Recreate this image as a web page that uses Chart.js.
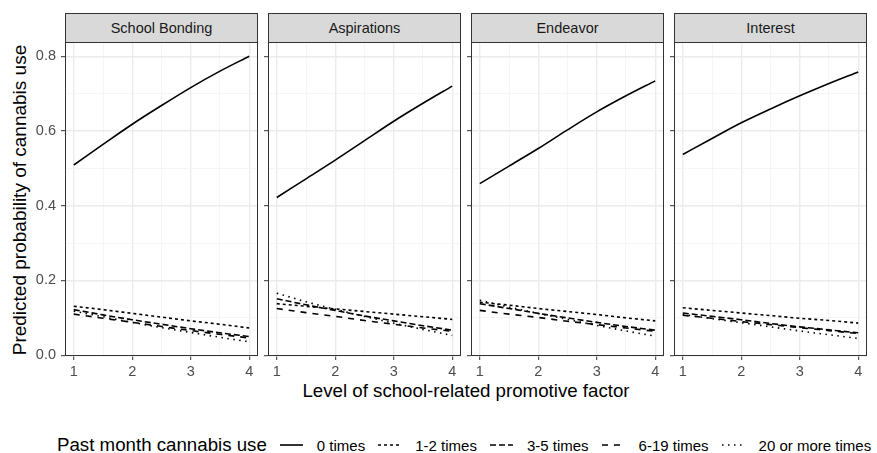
<!DOCTYPE html>
<html>
<head>
<meta charset="utf-8">
<script src="https://cdn.jsdelivr.net/npm/chart.js@4.4.1/dist/chart.umd.min.js"></script>
<style>
  html, body { margin: 0; padding: 0; background: #fff; }
  body { width: 877px; height: 453px; position: relative; overflow: hidden; font-family: "Liberation Sans", Arial, sans-serif; color: #000; }
  .strip { position: absolute; top: 13px; width: 193px; height: 30px; box-sizing: border-box; background: #D9D9D9; border: 1px solid #333; color: #1A1A1A; font-size: 14.5px; text-align: center; line-height: 28px; }
  .cv { position: absolute; top: 20px; }
  #ytitle { position: absolute; left: 19px; top: 200px; transform: translate(-50%, -50%) rotate(-90deg); white-space: nowrap; font-size: 19px; line-height: 19px; }
  #xtitle { position: absolute; left: 466px; top: 381px; transform: translateX(-50%); font-size: 18.7px; line-height: 19px; white-space: nowrap; }
  #legend { position: absolute; left: 57px; top: 434px; height: 22px; display: flex; align-items: center; white-space: nowrap; }
  #legend .ttl { font-size: 18.7px; margin-right: 13px; }
  #legend svg { display: block; margin-right: 14px; }
  #legend .lab { font-size: 15px; margin-right: 13px; }
</style>
</head>
<body>
<div id="ytitle">Predicted probability of cannabis use</div>
<div id="xtitle">Level of school-related promotive factor</div>
<div id="legend"></div>

<script>
const xs = [1, 1.5, 2, 2.5, 3, 3.5, 4];
const facets = ["School Bonding", "Aspirations", "Endeavor", "Interest"];
const groups = ["0 times", "1-2 times", "3-5 times", "6-19 times", "20 or more times"];

const xTicks = [1, 2, 3, 4];
const xTickLabels = ["1", "2", "3", "4"];
const xMinor = [1.5, 2.5, 3.5];
const yTicks = [0, 0.2, 0.4, 0.6, 0.8];
const yTickLabels = ["0.0", "0.2", "0.4", "0.6", "0.8"];
const yMinor = [0.1, 0.3, 0.5, 0.7];

// one row per facet (School Bonding, Aspirations, Endeavor, Interest)
const use0 = [
    [0.509, 0.564, 0.618, 0.668, 0.716, 0.760, 0.800],
    [0.422, 0.472, 0.522, 0.574, 0.626, 0.674, 0.720],
    [0.459, 0.506, 0.553, 0.603, 0.651, 0.694, 0.734],
    [0.537, 0.580, 0.622, 0.659, 0.694, 0.727, 0.758]
];
const use1to2 = [
    [0.131, 0.122, 0.112, 0.102, 0.092, 0.083, 0.073],
    [0.138, 0.131, 0.124, 0.117, 0.110, 0.103, 0.096],
    [0.142, 0.134, 0.125, 0.117, 0.109, 0.100, 0.092],
    [0.127, 0.120, 0.113, 0.106, 0.099, 0.093, 0.086]
];
const use3to5 = [
    [0.122, 0.108, 0.095, 0.083, 0.071, 0.060, 0.050],
    [0.151, 0.135, 0.120, 0.105, 0.092, 0.079, 0.067],
    [0.138, 0.125, 0.112, 0.100, 0.088, 0.077, 0.067],
    [0.113, 0.104, 0.095, 0.085, 0.076, 0.068, 0.060]
];
const use6to19 = [
    [0.110, 0.099, 0.088, 0.077, 0.066, 0.056, 0.046],
    [0.125, 0.114, 0.104, 0.093, 0.083, 0.073, 0.064],
    [0.120, 0.110, 0.101, 0.091, 0.082, 0.073, 0.064],
    [0.107, 0.099, 0.090, 0.082, 0.074, 0.066, 0.058]
];
const use20plus = [
    [0.118, 0.103, 0.088, 0.074, 0.061, 0.048, 0.036],
    [0.166, 0.143, 0.123, 0.104, 0.086, 0.069, 0.053],
    [0.147, 0.129, 0.112, 0.096, 0.080, 0.065, 0.051],
    [0.109, 0.098, 0.087, 0.076, 0.065, 0.055, 0.045]
];

const allSeries = [use0, use1to2, use3to5, use6to19, use20plus];
const dashes = [[], [3, 3], [6, 3], [6, 6], [1.5, 4.5]];
const svgDash = ["", "3 3", "6 3", "6 6", "1.5 4.5"];
const panelLeft = [65, 268, 471, 674];

const FONT = "'Liberation Sans', Arial, sans-serif";
const near = (arr, v) => arr.findIndex(t => Math.abs(t - v) < 1e-9);

// panel border drawn on top, like ggplot
const frame = {
    id: "frame",
    afterDraw(chart) {
        const a = chart.chartArea, c = chart.ctx;
        c.save();
        c.strokeStyle = "#333333";
        c.lineWidth = 1;
        c.strokeRect(a.left + 0.5, a.top + 0.5, a.right - a.left - 1, a.bottom - a.top - 1);
        c.restore();
    }
};

function gridOpts(major) {
    return {
        color: ctx => near(major, ctx.tick.value) >= 0 ? "#EBEBEB" : "#F3F3F3",
        lineWidth: ctx => near(major, ctx.tick.value) >= 0 ? 1.4 : 0.8,
        tickColor: ctx => near(major, ctx.tick.value) >= 0 ? "#333333" : "rgba(0,0,0,0)",
        tickLength: 4,
        tickWidth: 1
    };
}

facets.forEach((name, f) => {
    const strip = document.createElement("div");
    strip.className = "strip";
    strip.style.left = panelLeft[f] + "px";
    strip.textContent = name;
    document.body.appendChild(strip);

    const canvas = document.createElement("canvas");
    canvas.className = "cv";
    canvas.width = 255;
    canvas.height = 366;
    canvas.style.left = (panelLeft[f] - 50) + "px";
    document.body.appendChild(canvas);

    new Chart(canvas.getContext("2d"), {
        type: "line",
        data: {
            datasets: groups.map((g, s) => ({
                label: g,
                data: xs.map((x, i) => ({ x: x, y: allSeries[s][f][i] })),
                borderColor: "#000000",
                borderWidth: 1.6,
                borderDash: dashes[s],
                borderCapStyle: "butt",
                pointRadius: 0,
                fill: false,
                cubicInterpolationMode: "monotone"
            }))
        },
        options: {
            responsive: false,
            animation: false,
            devicePixelRatio: 1,
            layout: { padding: { top: 22, right: 12, left: 0, bottom: 0 } },
            plugins: { legend: { display: false }, tooltip: { enabled: false } },
            scales: {
                x: {
                    type: "linear",
                    min: 0.85,
                    max: 4.15,
                    afterBuildTicks: sc => { sc.ticks = xTicks.concat(xMinor).sort((a, b) => a - b).map(v => ({ value: v })); },
                    afterFit: sc => { sc.height = 30; },
                    border: { display: false },
                    grid: gridOpts(xTicks),
                    ticks: {
                        autoSkip: false,
                        maxRotation: 0,
                        padding: 3,
                        color: "#4D4D4D",
                        font: { family: FONT, size: 14.5 },
                        callback: v => { const k = near(xTicks, v); return k >= 0 ? xTickLabels[k] : ""; }
                    }
                },
                y: {
                    type: "linear",
                    min: -0.002,
                    max: 0.838,
                    afterBuildTicks: sc => { sc.ticks = yTicks.concat(yMinor).sort((a, b) => a - b).map(v => ({ value: v })); },
                    afterFit: sc => { sc.width = 50; },
                    border: { display: false },
                    grid: gridOpts(yTicks),
                    ticks: {
                        display: f === 0,
                        autoSkip: false,
                        padding: 5,
                        color: "#4D4D4D",
                        font: { family: FONT, size: 14.5 },
                        callback: v => { const k = near(yTicks, v); return k >= 0 ? yTickLabels[k] : ""; }
                    }
                }
            }
        },
        plugins: [frame]
    });
});

// legend keys
const legend = document.getElementById("legend");
legend.innerHTML = '<span class="ttl">Past month cannabis use</span>';
groups.forEach((g, s) => {
    legend.insertAdjacentHTML("beforeend",
        '<svg width="23" height="10"><line x1="0" y1="5" x2="23" y2="5" stroke="#000" stroke-width="1.6"' +
        (svgDash[s] ? ' stroke-dasharray="' + svgDash[s] + '"' : '') + '/></svg>' +
        '<span class="lab">' + g + '</span>');
});
</script>
</body>
</html>
